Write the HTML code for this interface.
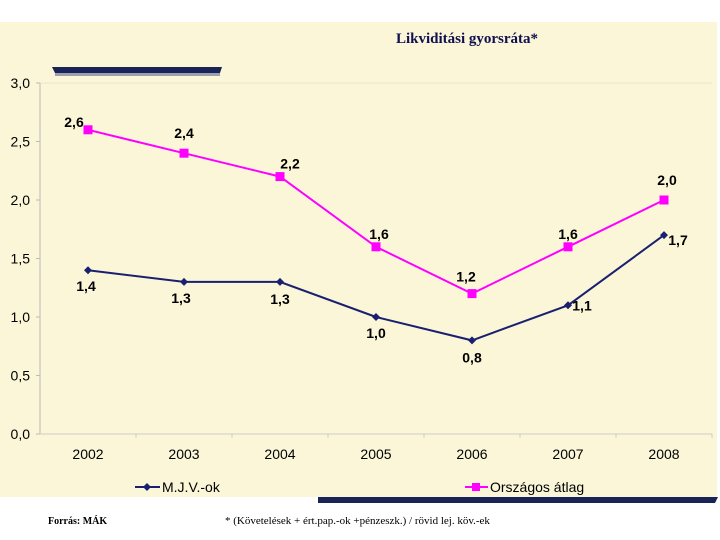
<!DOCTYPE html>
<html><head><meta charset="utf-8"><style>
body{margin:0;width:720px;height:540px;background:#fff;overflow:hidden;font-family:"Liberation Sans",sans-serif}
</style></head><body>
<svg width="720" height="540" style="position:absolute;left:0;top:0">
<rect x="0" y="22" width="717" height="475" fill="#fbf6d8"/>
<text x="467" y="43" text-anchor="middle" font-family="Liberation Serif,serif" font-size="15" font-weight="bold" fill="#101050">Likviditási gyorsráta*</text>
<polygon points="52,67 222,67 220,73 55,73" fill="#1a2356"/>
<rect x="55" y="73" width="165" height="3" fill="#9aa0b0"/>
<polygon points="318,497 718,497 715,503 318,503" fill="#1a2356"/>
<g id="axes"></g>
<g id="series"></g>
<g>
<line x1="135" y1="487" x2="160" y2="487" stroke="#1a2070" stroke-width="2"/>
<polygon points="147,483 151,487 147,491 143,487" fill="#1a2070"/>
<text x="162" y="492" font-size="14" fill="#000">M.J.V.-ok</text>
<line x1="465" y1="487" x2="488" y2="487" stroke="#ff00ff" stroke-width="2"/>
<rect x="472" y="483" width="8" height="8" fill="#ff00ff"/>
<text x="490" y="492" font-size="14" fill="#000">Országos átlag</text>
</g>
<text x="48" y="524" font-family="Liberation Serif,serif" font-size="10" font-weight="bold" fill="#000">Forrás: MÁK</text>
<text x="225" y="524" font-family="Liberation Serif,serif" font-size="11" fill="#000">* (Követelések + ért.pap.-ok +pénzeszk.) / rövid lej. köv.-ek</text>
</svg>
<script>
const categories=["2002","2003","2004","2005","2006","2007","2008"];
const mjv=[1.4,1.3,1.3,1.0,0.8,1.1,1.7];
const orsz=[2.6,2.4,2.2,1.6,1.2,1.6,2.0];
const yTicks=[0,0.5,1,1.5,2,2.5,3];
const NS="http://www.w3.org/2000/svg";
const x0=40,x1=712,yTop=83,yBot=434;
const step=(x1-x0)/categories.length;
function xs(i){return x0+step*(i+0.5);}
function ys(v){return yBot-(v/3)*(yBot-yTop);}
function mk(t,a,p){const e=document.createElementNS(NS,t);for(const k in a)e.setAttribute(k,a[k]);p.appendChild(e);return e;}
const ax=document.getElementById('axes'),se=document.getElementById('series');
function fmt(v){return v.toFixed(1).replace('.',',');}
yTicks.forEach(v=>{
  if(v===3){const g=mk('line',{x1:x0,x2:x1,y1:ys(v),y2:ys(v),stroke:'#ece6c8'},ax);
  
  }
  const t=mk('text',{x:30,y:ys(v)+5,'text-anchor':'end','font-size':14,fill:'#000'},ax);
  
  
  t.textContent=fmt(v);
  mk('line',{x1:x0-4,x2:x0,y1:ys(v),y2:ys(v),stroke:'#bbb'},ax);
});
mk('line',{x1:x0,x2:x0,y1:yTop,y2:yBot,stroke:'#bbb'},ax);
mk('line',{x1:x0,x2:x1,y1:yBot,y2:yBot,stroke:'#ccc'},ax);
categories.forEach((c,i)=>{
  mk('line',{x1:x0+step*(i+1),x2:x0+step*(i+1),y1:yBot,y2:yBot+4,stroke:'#ccc'},ax);
  const t=mk('text',{x:xs(i),y:459,'text-anchor':'middle','font-size':14,fill:'#000'},ax);
  
  
  t.textContent=c;
});
function line(vals,color,name){
  const p=mk('polyline',{points:vals.map((v,i)=>xs(i)+','+ys(v)).join(' '),fill:'none',stroke:color,'stroke-width':2},se);
  
  
}
line(orsz,'#ff00ff','orszagos');
line(mjv,'#1a2070','mjv');
const oOff=[[-14,-8],[0,-20],[10,-13],[3,-13],[-6,-17],[0,-13],[3,-20]];
orsz.forEach((v,i)=>{
  const r=mk('rect',{x:xs(i)-4.5,y:ys(v)-4.5,width:9,height:9,fill:'#ff00ff'},se);
  
  
  const t=mk('text',{x:xs(i)+oOff[i][0],y:ys(v)+oOff[i][1]+5,'text-anchor':'middle','font-size':14,'font-weight':600,fill:'#000'},se);
  
  
  t.textContent=fmt(v);
});
const mOff=[[-2,16],[-3,16],[0,17],[0,16],[0,17],[14,0],[14,5]];
mjv.forEach((v,i)=>{
  const x=xs(i),y=ys(v);
  const d=mk('polygon',{points:`${x},${y-4} ${x+4},${y} ${x},${y+4} ${x-4},${y}`,fill:'#1a2070'},se);
  
  
  const t=mk('text',{x:x+mOff[i][0],y:y+mOff[i][1]+5,'text-anchor':'middle','font-size':14,'font-weight':600,fill:'#000'},se);
  
  
  t.textContent=fmt(v);
});
</script>
</body></html>
